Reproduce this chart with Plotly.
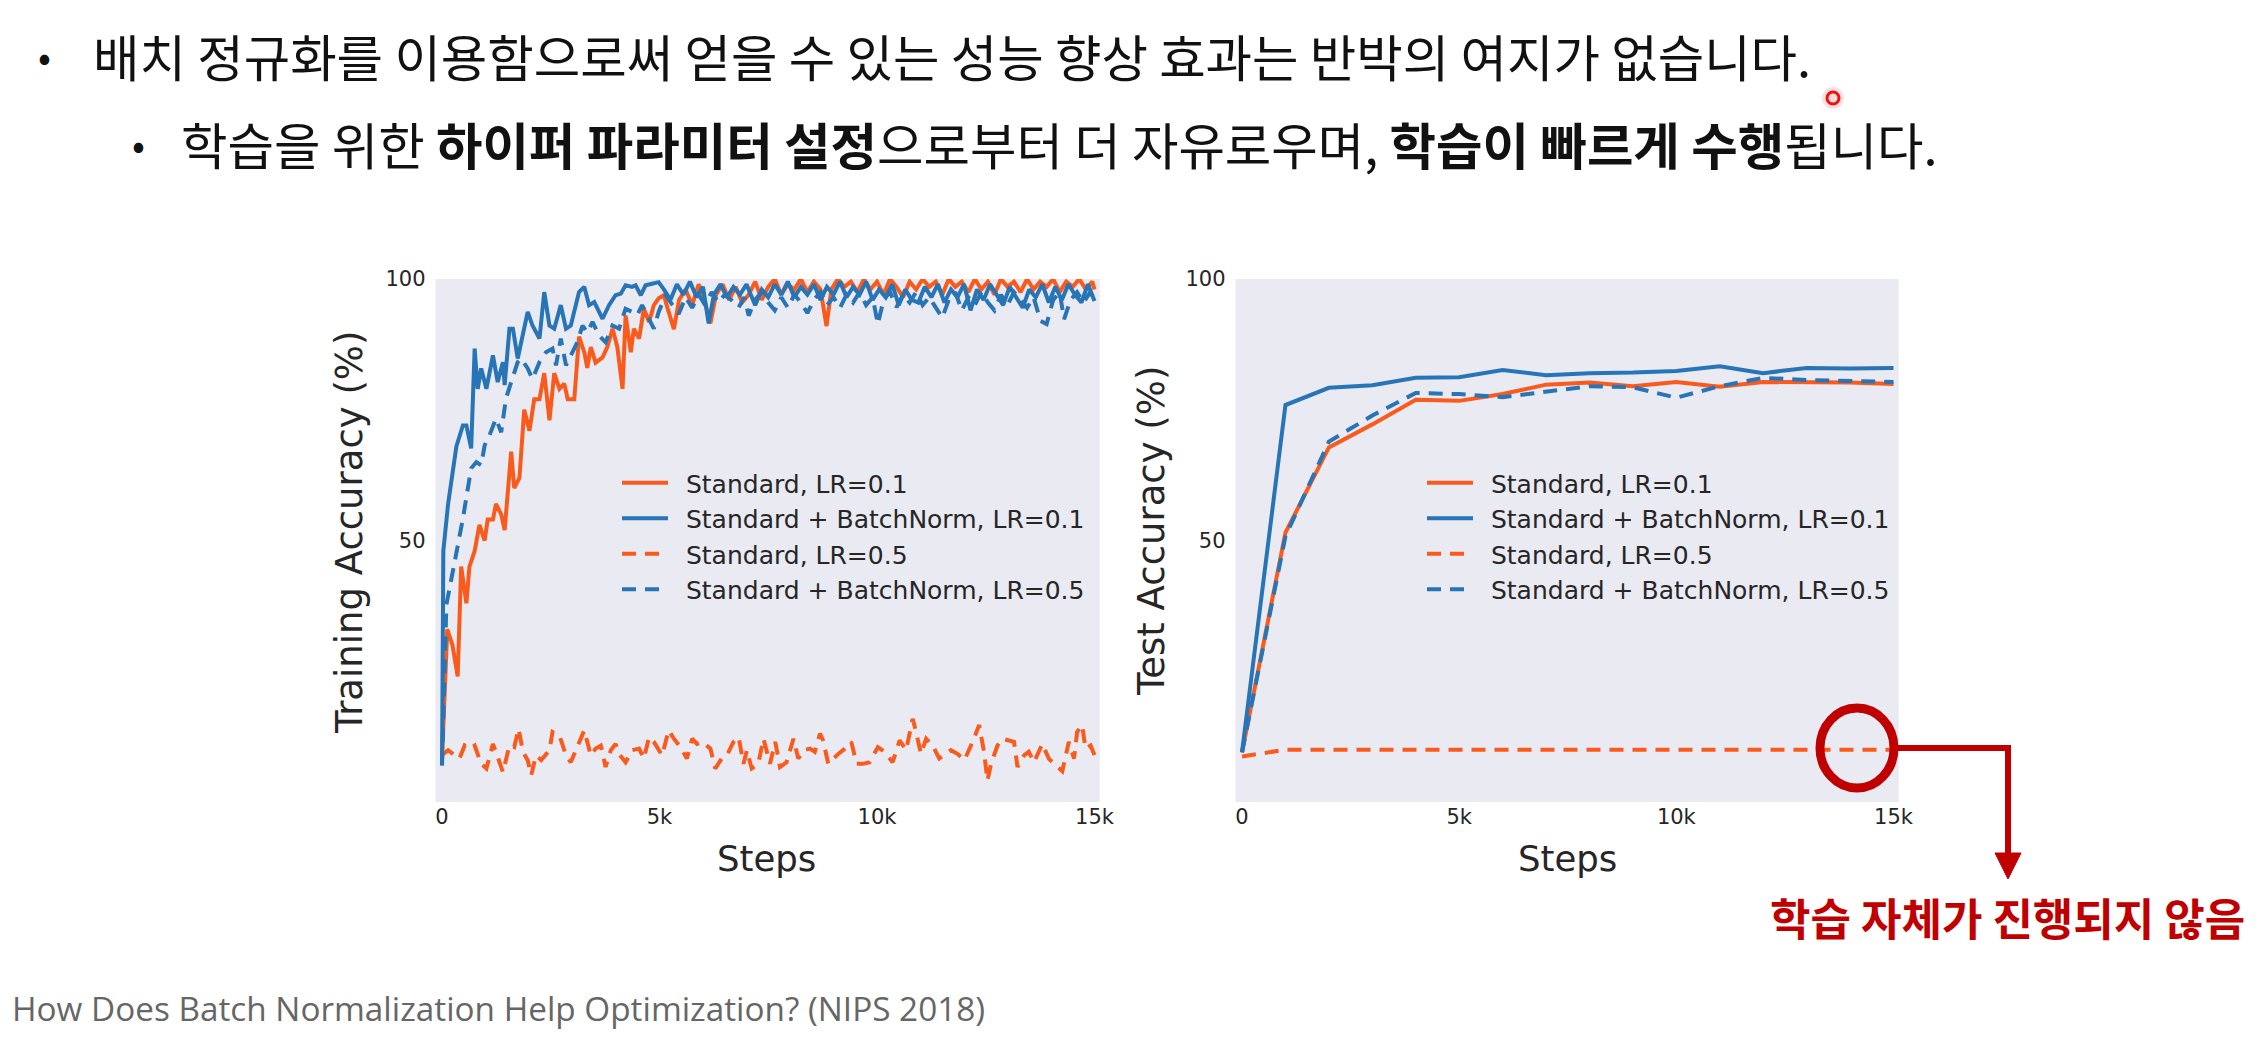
import plotly.graph_objects as go

W, H = 2259, 1039

# ---------------- data ----------------
series_names = ["Standard, LR=0.1", "Standard + BatchNorm, LR=0.1",
                "Standard, LR=0.5", "Standard + BatchNorm, LR=0.5"]
xtick_vals = [0, 5000, 10000, 15000]
xtick_text = ["0", "5k", "10k", "15k"]
ytick_vals = [50, 100]
ytick_text = ["50", "100"]

# Training accuracy, Standard LR=0.1 (orange solid)
train_std01_x = [0, 120, 240, 360, 440, 560, 630, 750, 860, 980,
                 1050, 1170, 1240, 1360, 1440, 1590, 1660, 1780, 1890, 2010,
                 2120, 2240, 2350, 2470, 2580, 2700, 2810, 2890, 3040, 3150,
                 3270, 3340, 3420, 3530, 3690, 3800, 3920, 4030, 4150, 4220,
                 4340, 4410, 4530, 4640, 4760, 4870, 4980, 5100,
                 5200, 5330, 5450, 5600, 5750, 5900, 6000, 6170, 6300, 6450,
                 6600, 6750, 6900, 7050, 7200, 7350, 7500, 7650, 7800, 7950,
                 8100, 8250, 8400, 8550, 8700, 8840, 8950, 9100, 9250, 9400,
                 9550, 9700, 9850, 10000, 10150, 10300, 10450, 10600, 10750, 10900,
                 11050, 11200, 11350, 11500, 11650, 11800, 11950, 12100, 12250, 12400,
                 12550, 12700, 12850, 13000, 13150, 13300, 13450, 13600, 13750, 13900,
                 14050, 14200, 14350, 14500, 14650, 14800, 14950, 15000]
train_std01_y = [8, 33, 30, 24, 45, 38, 45, 48, 53, 50,
                 54, 54, 57, 55, 52, 67, 60, 62, 75, 71,
                 77, 77, 82, 73, 82, 79, 80, 77, 77, 89,
                 86, 83, 87, 84, 85, 87, 90.5, 87, 79, 93,
                 86, 90.5, 88.6, 94.3, 91.8, 95, 96.3, 96.9,
                 94, 90.4, 96, 98, 95, 99, 97, 91.5, 97, 99,
                 96, 98.5, 95.5, 97, 99.5, 96, 98.5, 100, 97, 99,
                 98, 100, 97.5, 99.5, 98, 91, 98, 100, 98.5, 99.5,
                 97.5, 100, 98, 99.5, 97, 100, 98.5, 96.5, 99.5, 98,
                 100, 98.5, 99.5, 97, 100, 98.5, 99.5, 97.5, 100, 98,
                 99.5, 97, 100, 98.5, 99.5, 97.5, 100, 98, 99.5, 98.5,
                 100, 97.5, 99.5, 98.5, 100, 98, 99.5, 98]

# Training accuracy, Standard + BatchNorm LR=0.1 (blue solid)
train_bn01_x = [0, 30, 140, 330, 480, 560, 670, 750, 820, 900,
                1020, 1170, 1280, 1400, 1440, 1550, 1630, 1740, 1970, 2080,
                2240, 2350, 2470, 2580, 2730, 2850, 2960, 3150, 3270, 3380,
                3500, 3690, 3840, 3990, 4110, 4220, 4370, 4450, 4570, 4680,
                4830, 4980,
                5100, 5250, 5400, 5550, 5700, 5850, 6000, 6130, 6250, 6400,
                6550, 6700, 6850, 7000, 7200, 7350, 7500, 7650, 7800, 7950,
                8100, 8250, 8400, 8550, 8700, 8850, 9000, 9150, 9300, 9450,
                9600, 9750, 9900, 10050, 10200, 10350, 10500, 10650, 10800, 10950,
                11100, 11250, 11400, 11550, 11700, 11850, 12000, 12150, 12300, 12450,
                12600, 12750, 12900, 13050, 13200, 13350, 13500, 13650, 13800, 13950,
                14100, 14250, 14400, 14550, 14700, 14850, 15000]
train_bn01_y = [7, 48, 57, 68, 72, 72, 67.6, 86.7, 79, 82.9,
                79, 85.4, 80.3, 84.1, 79.7, 90.5, 90.5, 84.8, 93.7, 91.1,
                88.6, 97.5, 91.1, 90.5, 95, 90.5, 91.1, 97.5, 98.5, 95,
                95.6, 92.4, 95, 96.9, 97.2, 98.8, 98.5, 98.8, 96.9, 98.8,
                99.1, 99.4,
                98, 96, 99, 97, 99.5, 96.5, 98.5, 91.5, 97, 99,
                96.5, 98.5, 97, 99, 95, 98, 96.5, 99, 97, 99.5,
                96.5, 98.5, 97, 99, 96, 98.5, 97, 99.5, 96.5, 98.5,
                97, 99.5, 96, 98, 96.5, 99, 95, 98, 96, 95.5,
                98.5, 96.5, 99, 95.5, 98, 96.5, 99, 94, 98, 96,
                99, 97, 95, 98.5, 96.5, 94.5, 98, 96.5, 99, 95.5,
                98.5, 96, 99, 97, 95.5, 99, 95.8]

# Training accuracy, Standard LR=0.5 (orange dashed)
train_std05_x = [0, 140, 250, 400, 520, 630, 750, 900, 1020, 1170,
                 1280, 1400, 1550, 1660, 1760, 1860, 1970, 2050, 2160, 2280,
                 2470, 2540, 2700, 2850, 2960, 3150, 3270, 3420, 3530, 3650,
                 3760, 3880, 3990, 4070, 4220, 4370, 4530, 4640, 4760, 4870,
                 5060, 5210, 5330, 5480, 5630, 5750, 5860, 5980, 6170, 6280,
                 6430, 6550, 6700, 6820, 6930, 7010, 7120, 7270, 7390, 7540,
                 7660, 7770, 7920, 8080, 8190, 8310, 8460, 8570, 8690, 8760,
                 8880, 9110, 9260, 9410, 9530, 9680, 9830, 10020, 10170, 10360,
                 10520, 10670, 10820, 10900, 11010, 11130, 11280, 11430, 11590, 11700,
                 11850, 12010, 12160, 12350, 12460, 12540, 12620, 12770, 12880, 13040,
                 13150, 13230, 13380, 13490, 13610, 13800, 13950, 14110, 14260, 14410,
                 14530, 14600, 14720, 14790, 14910, 15000]
train_std05_y = [9.0, 9.9, 9.2, 8.3, 10.8, 10.2, 10.8, 7.3, 6.4, 11.1,
                 8.6, 5.7, 10.8, 10.5, 14.0, 9.6, 8.0, 5.1, 8.9, 8.0,
                 9.9, 13.4, 12.7, 8.9, 7.6, 11.5, 13.7, 8.9, 10.2, 10.8,
                 6.7, 9.9, 11.1, 9.2, 7.6, 9.9, 10.2, 8.3, 12.4, 11.5,
                 8.9, 13.7, 12.1, 10.5, 8.3, 12.1, 11.1, 11.5, 10.2, 6.4,
                 8.3, 8.9, 11.5, 12.4, 7.3, 9.9, 6.4, 7.3, 12.1, 7.3,
                 11.5, 6.7, 7.6, 12.1, 8.3, 9.9, 10.2, 9.6, 13.1, 11.8,
                 7.3, 9.2, 10.2, 11.5, 7.3, 7.3, 7.6, 10.5, 9.6, 7.6,
                 11.8, 9.9, 15.9, 13.4, 9.2, 12.1, 10.8, 8.3, 9.2, 9.9,
                 9.2, 8.0, 10.8, 14.7, 9.6, 4.1, 7.3, 10.8, 12.1, 11.8,
                 11.5, 6.7, 8.9, 9.6, 7.6, 11.1, 8.3, 7.0, 5.9, 11.5,
                 8.3, 13.4, 14.7, 10.2, 10.8, 9.0]

# Training accuracy, Standard + BatchNorm LR=0.5 (blue dashed)
train_bn05_x = [0, 100, 290, 480, 670, 790, 900, 980, 1090, 1240,
                1360, 1470, 1590, 1740, 1820, 1970, 2080, 2240, 2390, 2540,
                2620, 2730, 2850, 2960, 3110, 3230, 3340, 3460, 3610, 3760,
                3920, 4070, 4220, 4370, 4490, 4600, 4760, 4870, 4980,
                5140, 5300, 5440, 5600, 5750, 5900, 6050, 6200, 6350, 6500,
                6650, 6820, 6950, 7050, 7200, 7350, 7500, 7650, 7800, 7950,
                8100, 8250, 8400, 8550, 8700, 8850, 9000, 9150, 9300, 9450,
                9600, 9750, 9900, 10020, 10150, 10300, 10450, 10600, 10750, 10900,
                11050, 11200, 11350, 11500, 11650, 11800, 11950, 12100, 12250, 12400,
                12550, 12700, 12850, 13000, 13150, 13300, 13450, 13600, 13760, 13900,
                14050, 14200, 14300, 14450, 14600, 14750, 14900, 15000]
train_bn05_y = [7, 37.7, 45.9, 54.2, 63.8, 65, 64.4, 68.2, 70.1, 73.3,
                70.7, 77.1, 80.3, 84.1, 84.8, 82.9, 80.9, 84.1, 86, 86.7,
                83.5, 88.6, 83.5, 85.4, 87.9, 91.1, 89.8, 91.8, 89.2, 87.9,
                91.1, 90.5, 94.3, 93.7, 93.1, 95, 92.4, 90.5, 93.7,
                96.9, 95, 93.3, 96.5, 94.5, 97, 95, 97.5, 95.5, 97,
                96, 94.6, 96.5, 93, 96, 97.5, 95.5, 94, 96.5, 94.5,
                97, 95.5, 93.5, 96, 97.5, 95, 96.5, 94.5, 97, 95.5,
                97.5, 95, 96.5, 91.4, 96, 97.5, 94.6, 97, 95.5, 97.5,
                95, 96.5, 94.5, 92.6, 96, 97.5, 94, 96.5, 95, 97.5,
                95.5, 94, 97, 95, 97.5, 96, 94.5, 96.5, 92, 91.4,
                96, 97.5, 92.3, 96, 97.5, 95.5, 97.5, 96]

# Test accuracy (evaluated every 1k steps)
test_steps = [0, 1000, 2000, 3000, 4000, 5000, 6000, 7000, 8000, 9000,
              10000, 11000, 12000, 13000, 14000, 15000]
test_std01 = [9.5, 51.5, 67.8, 72.2, 76.9, 76.7, 78.0, 79.8, 80.2, 79.5,
              80.3, 79.4, 80.3, 80.3, 80.2, 79.9]
test_bn01 = [9.5, 75.9, 79.2, 79.7, 81.1, 81.2, 82.6, 81.6, 82.0, 82.1,
             82.4, 83.3, 82.0, 83.0, 82.9, 83.0]
test_std05 = [8.7, 10.0, 10.0, 10.0, 10.0, 10.0, 10.0, 10.0, 10.0, 10.0,
              10.0, 10.0, 10.0, 10.0, 10.0, 10.0]
test_bn05 = [9.5, 50.8, 68.9, 73.9, 78.2, 78.0, 77.4, 78.4, 79.5, 79.3,
             77.3, 79.5, 81.1, 80.7, 80.5, 80.3]

# ---------------- styling ----------------
ORANGE = "#FA5A1C"
BLUE = "#2775B6"
RED = "#C00000"
LW = 4
DASH = "14px,9px"
TICK_FONT = dict(family="DejaVu Sans", size=21, color="#262626")
LEG_FONT = dict(family="DejaVu Sans", size=25, color="#262626")
TITLE_FONT = dict(family="DejaVu Sans", size=37, color="#262626")
STEPS_FONT = dict(family="DejaVu Sans", size=35.5, color="#262626")
KR = "Noto Sans CJK KR"
LEG_PAD = "\u00a0\u2009"   # small gap between legend sample and label


def fx(px):
    return px / W


def fy(py):
    return 1 - py / H


fig = go.Figure()

styles = [(ORANGE, "solid"), (BLUE, "solid"), (ORANGE, DASH), (BLUE, DASH)]
train_sets = [(train_std01_x, train_std01_y), (train_bn01_x, train_bn01_y),
              (train_std05_x, train_std05_y), (train_bn05_x, train_bn05_y)]
test_sets = [test_std01, test_bn01, test_std05, test_bn05]

for name, (c, d), (xs, ys) in zip(series_names, styles, train_sets):
    fig.add_trace(go.Scatter(x=xs, y=ys, mode="lines", name=LEG_PAD + name,
                             line=dict(color=c, width=LW, dash=d),
                             xaxis="x", yaxis="y", legend="legend"))
for name, (c, d), ys in zip(series_names, styles, test_sets):
    fig.add_trace(go.Scatter(x=test_steps, y=ys, mode="lines", name=LEG_PAD + name,
                             line=dict(color=c, width=LW, dash=d),
                             xaxis="x2", yaxis="y2", legend="legend2"))

ydom = [fy(794), fy(271)]
xdom1 = [fx(427.5), fx(1091.7)]
xdom2 = [fx(1227.5), fx(1890.7)]

axis_common = dict(showgrid=False, zeroline=False, showline=False,
                   tickfont=TICK_FONT, ticks="", automargin=False)

fig.update_layout(
    width=W, height=H,
    margin=dict(l=0, r=0, t=0, b=0),
    paper_bgcolor="white", plot_bgcolor="#EAEAF2",
    xaxis=dict(domain=xdom1, range=[-150, 15120], anchor="y",
               tickvals=xtick_vals, ticktext=xtick_text, **axis_common),
    yaxis=dict(domain=ydom, range=[0, 100], anchor="x", ticklabelstandoff=9,
               tickvals=ytick_vals, ticktext=ytick_text, **axis_common),
    xaxis2=dict(domain=xdom2, range=[-150, 15120], anchor="y2",
                tickvals=xtick_vals, ticktext=xtick_text, **axis_common),
    yaxis2=dict(domain=ydom, range=[0, 100], anchor="x2", ticklabelstandoff=9,
                tickvals=ytick_vals, ticktext=ytick_text, **axis_common),
    legend=dict(x=fx(609), y=fy(452), xanchor="left", yanchor="top",
                bgcolor="rgba(0,0,0,0)", font=LEG_FONT, itemwidth=46,
                tracegroupgap=0),
    legend2=dict(x=fx(1414), y=fy(452), xanchor="left", yanchor="top",
                 bgcolor="rgba(0,0,0,0)", font=LEG_FONT, itemwidth=46,
                 tracegroupgap=0),
    showlegend=True,
)

ann = []
# axis titles
ann.append(dict(text="Training Accuracy (%)", x=fx(341), y=fy(524), xref="paper", yref="paper",
                textangle=-90, showarrow=False, font=TITLE_FONT, xanchor="center", yanchor="middle"))
ann.append(dict(text="Test Accuracy (%)", x=fx(1143), y=fy(523), xref="paper", yref="paper",
                textangle=-90, showarrow=False, font=TITLE_FONT, xanchor="center", yanchor="middle"))
ann.append(dict(text="Steps", x=fx(758), y=fy(850), xref="paper", yref="paper",
                showarrow=False, font=STEPS_FONT, xanchor="center", yanchor="middle"))
ann.append(dict(text="Steps", x=fx(1559), y=fy(850), xref="paper", yref="paper",
                showarrow=False, font=STEPS_FONT, xanchor="center", yanchor="middle"))

# bullet text
ann.append(dict(text="•", x=fx(36), y=fy(47), xref="paper", yref="paper", showarrow=False,
                font=dict(family=KR, size=38, color="#111"), xanchor="center", yanchor="middle"))
ann.append(dict(text="배치 정규화를 이용함으로써 얻을 수 있는 성능 향상 효과는 반박의 여지가 없습니다.",
                x=fx(83), y=fy(47), xref="paper", yref="paper", showarrow=False,
                font=dict(family=KR, size=50.5, color="#111"), xanchor="left", yanchor="middle"))
ann.append(dict(text="•", x=fx(130), y=fy(135), xref="paper", yref="paper", showarrow=False,
                font=dict(family=KR, size=38, color="#111"), xanchor="center", yanchor="middle"))
ann.append(dict(text="학습을 위한 <b>하이퍼 파라미터 설정</b>으로부터 더 자유로우며, <b>학습이 빠르게 수행</b>됩니다.",
                x=fx(171), y=fy(135), xref="paper", yref="paper", showarrow=False,
                font=dict(family=KR, size=50.5, color="#111"), xanchor="left", yanchor="middle"))

# red note
ann.append(dict(text="<b>학습 자체가 진행되지 않음</b>", x=fx(1760), y=fy(909), xref="paper", yref="paper",
                showarrow=False, font=dict(family=KR, size=44, color=RED),
                xanchor="left", yanchor="middle"))

# citation
ann.append(dict(text="How Does Batch Normalization Help Optimization? (NIPS 2018)",
                x=fx(2), y=fy(1000), xref="paper", yref="paper", showarrow=False,
                font=dict(family="Open Sans", size=33.3, color="#666666"),
                xanchor="left", yanchor="middle"))

fig.update_layout(annotations=ann)

# highlight circle, connector and arrow
cx, cy, rx, ry = 1849, 740, 37, 40
shapes = [
    dict(type="circle", xref="paper", yref="paper",
         x0=fx(cx - rx), x1=fx(cx + rx), y0=fy(cy + ry), y1=fy(cy - ry),
         line=dict(color=RED, width=9)),
    dict(type="path", xref="paper", yref="paper",
         path=f"M {fx(cx + rx + 4)},{fy(cy)} L {fx(2000)},{fy(cy)} L {fx(2000)},{fy(849)}",
         line=dict(color=RED, width=6)),
    dict(type="path", xref="paper", yref="paper",
         path=f"M {fx(1987)},{fy(845)} L {fx(2013)},{fy(845)} L {fx(2000)},{fy(871)} Z",
         fillcolor=RED, line=dict(color=RED, width=1)),
    # laser pointer dot
    dict(type="circle", xref="paper", yref="paper",
         x0=fx(1814), x1=fx(1836), y0=fy(101), y1=fy(79),
         fillcolor="rgba(255,80,80,0.18)", line=dict(width=0)),
    dict(type="circle", xref="paper", yref="paper",
         x0=fx(1819), x1=fx(1831), y0=fy(96), y1=fy(84),
         fillcolor="rgba(255,220,220,0.9)", line=dict(color="#F01010", width=3)),
]
fig.update_layout(shapes=shapes)

fig.write_html("out.html")
